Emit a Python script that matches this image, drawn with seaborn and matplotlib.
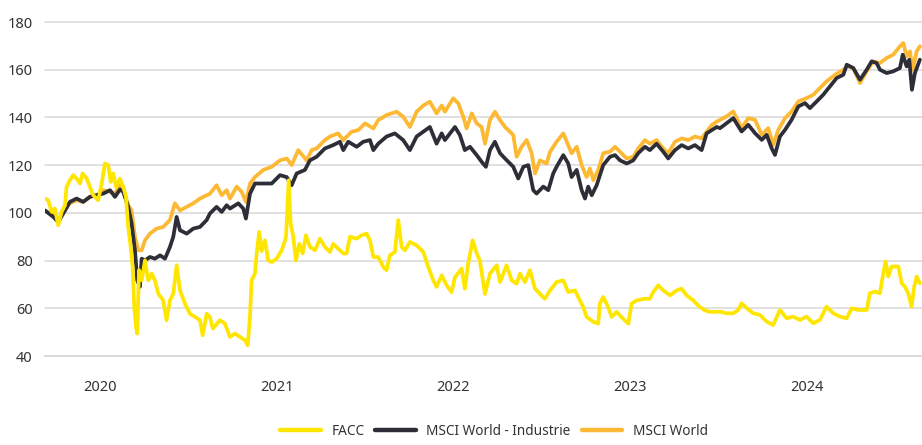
import pandas as pd
import matplotlib
matplotlib.use("Agg")
import matplotlib.pyplot as plt
from matplotlib.lines import Line2D
import seaborn as sns

# time axis in decimal years, values indexed (start = 100)
facc_t = [2019.689, 2019.707, 2019.727, 2019.745, 2019.764, 2019.783, 2019.802, 2019.811, 2019.830, 2019.849,
          2019.868, 2019.887, 2019.902, 2019.925, 2019.943, 2019.962, 2019.990, 2020.010, 2020.028, 2020.047,
          2020.061, 2020.075, 2020.091, 2020.113, 2020.132, 2020.147, 2020.160, 2020.174, 2020.185, 2020.194,
          2020.204, 2020.211, 2020.221, 2020.236, 2020.255, 2020.273, 2020.293, 2020.311, 2020.330, 2020.358,
          2020.377, 2020.396, 2020.415, 2020.434, 2020.453, 2020.481, 2020.509, 2020.538, 2020.566, 2020.581,
          2020.604, 2020.622, 2020.639, 2020.679, 2020.707, 2020.736, 2020.764, 2020.792, 2020.821, 2020.836,
          2020.849, 2020.858, 2020.877, 2020.887, 2020.901, 2020.915, 2020.934, 2020.952, 2020.972, 2021.000,
          2021.028, 2021.041, 2021.053, 2021.068, 2021.079, 2021.094, 2021.109, 2021.128, 2021.147, 2021.166,
          2021.188, 2021.217, 2021.245, 2021.273, 2021.302, 2021.320, 2021.348, 2021.377, 2021.396, 2021.415,
          2021.453, 2021.481, 2021.509, 2021.528, 2021.547, 2021.575, 2021.603, 2021.622, 2021.641, 2021.669,
          2021.688, 2021.707, 2021.726, 2021.754, 2021.792, 2021.830, 2021.858, 2021.886, 2021.905, 2021.934,
          2021.962, 2021.990, 2022.009, 2022.047, 2022.065, 2022.084, 2022.109, 2022.132, 2022.150, 2022.179,
          2022.207, 2022.245, 2022.264, 2022.301, 2022.330, 2022.358, 2022.377, 2022.405, 2022.433, 2022.462,
          2022.490, 2022.518, 2022.547, 2022.584, 2022.622, 2022.650, 2022.688, 2022.707, 2022.735, 2022.754,
          2022.792, 2022.820, 2022.829, 2022.848, 2022.876, 2022.896, 2022.924, 2022.961, 2022.990, 2023.009,
          2023.037, 2023.084, 2023.112, 2023.131, 2023.159, 2023.188, 2023.226, 2023.263, 2023.292, 2023.320,
          2023.357, 2023.395, 2023.424, 2023.452, 2023.490, 2023.509, 2023.546, 2023.584, 2023.612, 2023.631,
          2023.660, 2023.697, 2023.735, 2023.773, 2023.810, 2023.848, 2023.886, 2023.923, 2023.961, 2023.999,
          2024.037, 2024.074, 2024.112, 2024.150, 2024.188, 2024.226, 2024.254, 2024.291, 2024.339, 2024.357,
          2024.386, 2024.414, 2024.433, 2024.446, 2024.461, 2024.480, 2024.518, 2024.537, 2024.555, 2024.574,
          2024.593, 2024.608, 2024.622, 2024.640]
facc_v = [106.0, 105.3, 100.4, 101.8, 94.8, 100.4, 103.2, 110.9, 113.7, 115.8,
          114.4, 112.3, 116.5, 114.4, 110.9, 107.4, 105.3, 112.3, 120.7, 120.0,
          113.0, 116.5, 110.9, 114.4, 110.9, 106.7, 94.1, 85.7, 77.3, 60.5,
          52.2, 49.4, 76.0, 71.7, 80.1, 71.7, 74.5, 71.7, 66.1, 63.3,
          55.0, 63.3, 66.1, 78.0, 67.5, 62.0, 57.7, 56.4, 55.0, 48.7,
          57.7, 56.4, 51.5, 55.0, 53.6, 48.0, 49.4, 48.0, 46.6, 44.5,
          56.4, 71.7, 74.5, 83.0, 92.0, 84.0, 88.5, 80.0, 79.4, 80.8,
          84.3, 87.0, 90.0, 113.7, 95.5, 90.0, 80.0, 87.0, 83.0, 90.6,
          85.7, 84.3, 89.2, 85.7, 83.6, 87.0, 85.0, 83.0, 83.0, 90.0,
          89.2, 90.6, 91.3, 88.5, 81.5, 81.5, 77.3, 76.0, 82.2, 83.6,
          97.0, 85.7, 84.3, 87.8, 86.4, 83.6, 77.3, 71.7, 69.0, 73.8,
          69.6, 66.8, 73.0, 76.6, 68.2, 78.7, 88.5, 83.0, 80.0, 66.0,
          74.5, 78.0, 71.0, 78.0, 71.7, 70.3, 74.5, 71.0, 76.0, 68.2,
          66.0, 64.0, 67.5, 71.0, 71.7, 66.8, 67.5, 64.7, 60.5, 56.4,
          54.3, 53.6, 62.0, 64.7, 60.5, 56.4, 58.5, 55.6, 53.6, 62.0,
          63.3, 64.0, 64.0, 66.8, 69.6, 67.5, 65.4, 67.5, 68.2, 65.4,
          63.3, 60.5, 59.1, 58.5, 58.5, 58.6, 57.9, 57.9, 59.3, 62.1,
          60.0, 57.9, 57.2, 54.4, 53.0, 59.3, 55.8, 56.5, 55.1, 56.5,
          53.7, 55.1, 60.7, 57.9, 56.5, 55.8, 60.0, 59.3, 59.3, 66.3,
          67.0, 66.3, 74.7, 79.6, 73.3, 77.5, 77.5, 70.5, 69.1, 66.3,
          60.7, 69.1, 73.3, 70.5]

world_t = [2019.689, 2019.736, 2019.764, 2019.792, 2019.830, 2019.868, 2019.905, 2019.943, 2019.981, 2020.019,
           2020.057, 2020.085, 2020.113, 2020.132, 2020.160, 2020.179, 2020.198, 2020.217, 2020.236, 2020.255,
           2020.283, 2020.321, 2020.358, 2020.396, 2020.424, 2020.453, 2020.491, 2020.528, 2020.566, 2020.604,
           2020.622, 2020.660, 2020.689, 2020.717, 2020.736, 2020.774, 2020.802, 2020.826, 2020.849, 2020.877,
           2020.924, 2020.972, 2021.019, 2021.057, 2021.085, 2021.122, 2021.170, 2021.198, 2021.226, 2021.273,
           2021.302, 2021.348, 2021.377, 2021.424, 2021.462, 2021.500, 2021.547, 2021.575, 2021.622, 2021.679,
           2021.716, 2021.754, 2021.792, 2021.830, 2021.867, 2021.905, 2021.934, 2021.952, 2021.999, 2022.028,
           2022.056, 2022.075, 2022.104, 2022.132, 2022.160, 2022.179, 2022.207, 2022.235, 2022.264, 2022.292,
           2022.311, 2022.339, 2022.358, 2022.386, 2022.415, 2022.443, 2022.462, 2022.490, 2022.528, 2022.547,
           2022.584, 2022.622, 2022.650, 2022.669, 2022.698, 2022.726, 2022.754, 2022.773, 2022.792, 2022.820,
           2022.848, 2022.886, 2022.915, 2022.943, 2022.981, 2023.018, 2023.046, 2023.084, 2023.112, 2023.150,
           2023.188, 2023.216, 2023.254, 2023.292, 2023.329, 2023.367, 2023.405, 2023.433, 2023.462, 2023.490,
           2023.509, 2023.546, 2023.584, 2023.631, 2023.669, 2023.707, 2023.745, 2023.782, 2023.810, 2023.839,
           2023.877, 2023.914, 2023.952, 2023.999, 2024.037, 2024.074, 2024.112, 2024.160, 2024.207, 2024.235,
           2024.263, 2024.301, 2024.339, 2024.376, 2024.414, 2024.452, 2024.489, 2024.527, 2024.546, 2024.565,
           2024.584, 2024.599, 2024.622, 2024.640]
world_v = [101.0, 99.0, 97.0, 100.4, 104.0, 105.3, 104.6, 106.7, 107.4, 109.5,
           108.8, 108.1, 111.6, 110.2, 103.2, 101.0, 90.0, 84.3, 84.3, 88.5,
           91.3, 93.4, 94.1, 97.0, 104.0, 101.0, 102.5, 104.0, 106.0, 107.4,
           108.0, 111.6, 107.4, 109.5, 106.0, 111.0, 108.8, 104.6, 112.3, 115.0,
           118.0, 119.3, 122.0, 122.8, 120.0, 126.3, 122.0, 126.3, 127.0, 130.5,
           132.0, 133.3, 130.5, 134.0, 134.7, 137.5, 135.4, 138.9, 141.0, 142.4,
           140.3, 136.0, 142.4, 145.0, 146.6, 141.7, 145.0, 142.4, 148.0, 145.9,
           140.3, 135.4, 141.7, 137.5, 136.0, 129.0, 138.9, 142.4, 138.9, 136.0,
           134.7, 132.6, 123.5, 127.7, 130.5, 125.0, 116.5, 122.0, 120.7, 125.6,
           129.8, 133.3, 128.4, 125.0, 127.7, 120.0, 115.0, 118.6, 113.7, 118.0,
           125.0, 125.6, 127.7, 125.6, 122.8, 123.5, 127.0, 130.5, 129.0, 130.5,
           127.0, 125.0, 129.8, 131.2, 130.5, 132.0, 131.2, 134.0, 136.8, 138.2,
           139.0, 140.4, 142.5, 135.5, 139.7, 139.0, 132.7, 135.5, 128.5, 134.8,
           139.7, 142.5, 146.7, 148.1, 149.5, 152.3, 155.1, 157.9, 160.0, 161.4,
           160.7, 154.4, 159.3, 163.5, 162.8, 164.9, 166.3, 169.8, 171.2, 165.6,
           167.7, 160.0, 167.7, 169.8]

ind_t = [2019.689, 2019.736, 2019.764, 2019.792, 2019.830, 2019.868, 2019.905, 2019.943, 2019.981, 2020.019,
         2020.057, 2020.085, 2020.113, 2020.132, 2020.160, 2020.179, 2020.198, 2020.211, 2020.226, 2020.236,
         2020.255, 2020.283, 2020.311, 2020.340, 2020.368, 2020.396, 2020.415, 2020.434, 2020.453, 2020.491,
         2020.528, 2020.566, 2020.604, 2020.622, 2020.660, 2020.689, 2020.717, 2020.736, 2020.783, 2020.811,
         2020.826, 2020.849, 2020.877, 2020.924, 2020.972, 2021.019, 2021.057, 2021.085, 2021.113, 2021.160,
         2021.188, 2021.226, 2021.273, 2021.320, 2021.358, 2021.377, 2021.405, 2021.453, 2021.490, 2021.528,
         2021.547, 2021.575, 2021.622, 2021.669, 2021.716, 2021.754, 2021.792, 2021.830, 2021.867, 2021.905,
         2021.934, 2021.952, 2022.009, 2022.037, 2022.065, 2022.094, 2022.132, 2022.160, 2022.184, 2022.207,
         2022.235, 2022.264, 2022.292, 2022.311, 2022.339, 2022.367, 2022.396, 2022.424, 2022.452, 2022.471,
         2022.509, 2022.537, 2022.565, 2022.584, 2022.622, 2022.650, 2022.669, 2022.698, 2022.726, 2022.745,
         2022.763, 2022.783, 2022.811, 2022.848, 2022.886, 2022.915, 2022.943, 2022.981, 2023.018, 2023.046,
         2023.084, 2023.112, 2023.150, 2023.188, 2023.216, 2023.254, 2023.292, 2023.329, 2023.367, 2023.405,
         2023.433, 2023.462, 2023.490, 2023.509, 2023.546, 2023.584, 2023.631, 2023.669, 2023.707, 2023.745,
         2023.773, 2023.801, 2023.820, 2023.848, 2023.877, 2023.914, 2023.952, 2023.990, 2024.018, 2024.056,
         2024.093, 2024.131, 2024.169, 2024.207, 2024.226, 2024.263, 2024.301, 2024.339, 2024.367, 2024.395,
         2024.414, 2024.452, 2024.489, 2024.527, 2024.543, 2024.565, 2024.580, 2024.595, 2024.612, 2024.640]
ind_v = [101.0, 98.3, 96.2, 99.7, 104.6, 106.0, 104.6, 106.7, 107.4, 108.1,
         109.5, 106.7, 109.8, 108.8, 102.5, 95.5, 84.3, 71.7, 69.0, 80.8,
         80.1, 81.5, 80.8, 82.2, 80.8, 85.7, 90.0, 98.3, 92.7, 91.3,
         93.4, 94.1, 97.0, 99.7, 102.5, 100.4, 103.2, 101.8, 104.0, 101.8,
         97.6, 108.0, 112.3, 112.3, 112.3, 115.8, 115.0, 111.6, 116.5, 118.0,
         122.0, 123.5, 127.0, 128.4, 129.8, 126.3, 129.8, 127.7, 129.8, 130.5,
         126.3, 129.0, 132.0, 133.3, 130.5, 126.3, 132.0, 134.0, 136.0, 129.0,
         133.3, 130.5, 136.0, 132.6, 126.3, 127.7, 124.2, 121.4, 119.3, 126.3,
         129.8, 125.0, 122.8, 121.4, 119.3, 114.4, 119.3, 120.0, 109.5, 108.1,
         111.0, 109.5, 116.5, 119.3, 124.2, 120.7, 115.0, 118.0, 109.5, 106.0,
         111.0, 107.4, 111.6, 120.0, 123.5, 124.2, 122.0, 120.7, 122.0, 125.0,
         127.7, 126.3, 129.0, 125.6, 122.8, 126.3, 128.4, 127.0, 128.4, 126.3,
         133.3, 134.7, 136.0, 135.5, 137.6, 139.7, 134.1, 136.9, 133.4, 130.6,
         132.7, 127.1, 124.3, 132.0, 134.8, 139.0, 144.6, 146.0, 143.9, 146.7,
         149.5, 153.0, 156.5, 157.9, 162.1, 160.7, 155.8, 160.0, 163.5, 162.8,
         160.0, 158.6, 159.3, 160.7, 166.3, 161.4, 164.2, 151.6, 158.6, 164.2]

year_ticks = [2020, 2021, 2022, 2023, 2024]
y_ticks = [40, 60, 80, 100, 120, 140, 160, 180]
series_names = ["FACC", "MSCI World - Industrie", "MSCI World"]
series_colors = ["#FFE600", "#2E2E38", "#FDB933"]

sns.set_style("white")
plt.rcParams["font.family"] = ["Noto Sans", "DejaVu Sans"]

fig = plt.figure(figsize=(9.22, 4.45), dpi=100)
ax = fig.add_axes([45 / 922, 1 - 356 / 445, 1 - 45 / 922, (356 - 22) / 445])

lw = 2.7
df_world = pd.DataFrame({"t": world_t, "v": world_v})
df_ind = pd.DataFrame({"t": ind_t, "v": ind_v})
df_facc = pd.DataFrame({"t": facc_t, "v": facc_v})
sns.lineplot(data=df_world, x="t", y="v", color=series_colors[2], linewidth=lw, ax=ax, zorder=3)
sns.lineplot(data=df_ind, x="t", y="v", color=series_colors[1], linewidth=lw, ax=ax, zorder=4)
sns.lineplot(data=df_facc, x="t", y="v", color=series_colors[0], linewidth=lw, ax=ax, zorder=5)

ax.set_xlim(2019.689, 2024.652)
ax.set_ylim(40, 180)
ax.set_yticks(y_ticks)
ax.set_xticks(year_ticks)
ax.set_xticklabels([str(y) for y in year_ticks])
ax.set_xlabel("")
ax.set_ylabel("")

grid_col = "#D9D9D9"
ax.yaxis.grid(True, color=grid_col, linewidth=1.1)
ax.xaxis.grid(False)
for gl in ax.get_ygridlines():
    gl.set_clip_on(False)
for s in ["top", "right", "left"]:
    ax.spines[s].set_visible(False)
ax.spines["bottom"].set_color(grid_col)
ax.spines["bottom"].set_linewidth(1.1)

ax.tick_params(axis="y", length=0, pad=9, labelsize=10.5, labelcolor="#333333")
ax.tick_params(axis="x", length=3.5, width=1.2, color="#C8C8C8", pad=14,
               labelsize=10.5, labelcolor="#333333")

handles = [Line2D([], [], color=c, linewidth=3.2) for c in series_colors]
fig.legend(handles, series_names, loc="center", bbox_to_anchor=(494 / 922, 0.03),
           ncol=3, frameon=False, fontsize=9.8, handlelength=3.0, handletextpad=0.75,
           columnspacing=0.8, labelcolor="#333333")

fig.savefig("out.png", dpi=100)
